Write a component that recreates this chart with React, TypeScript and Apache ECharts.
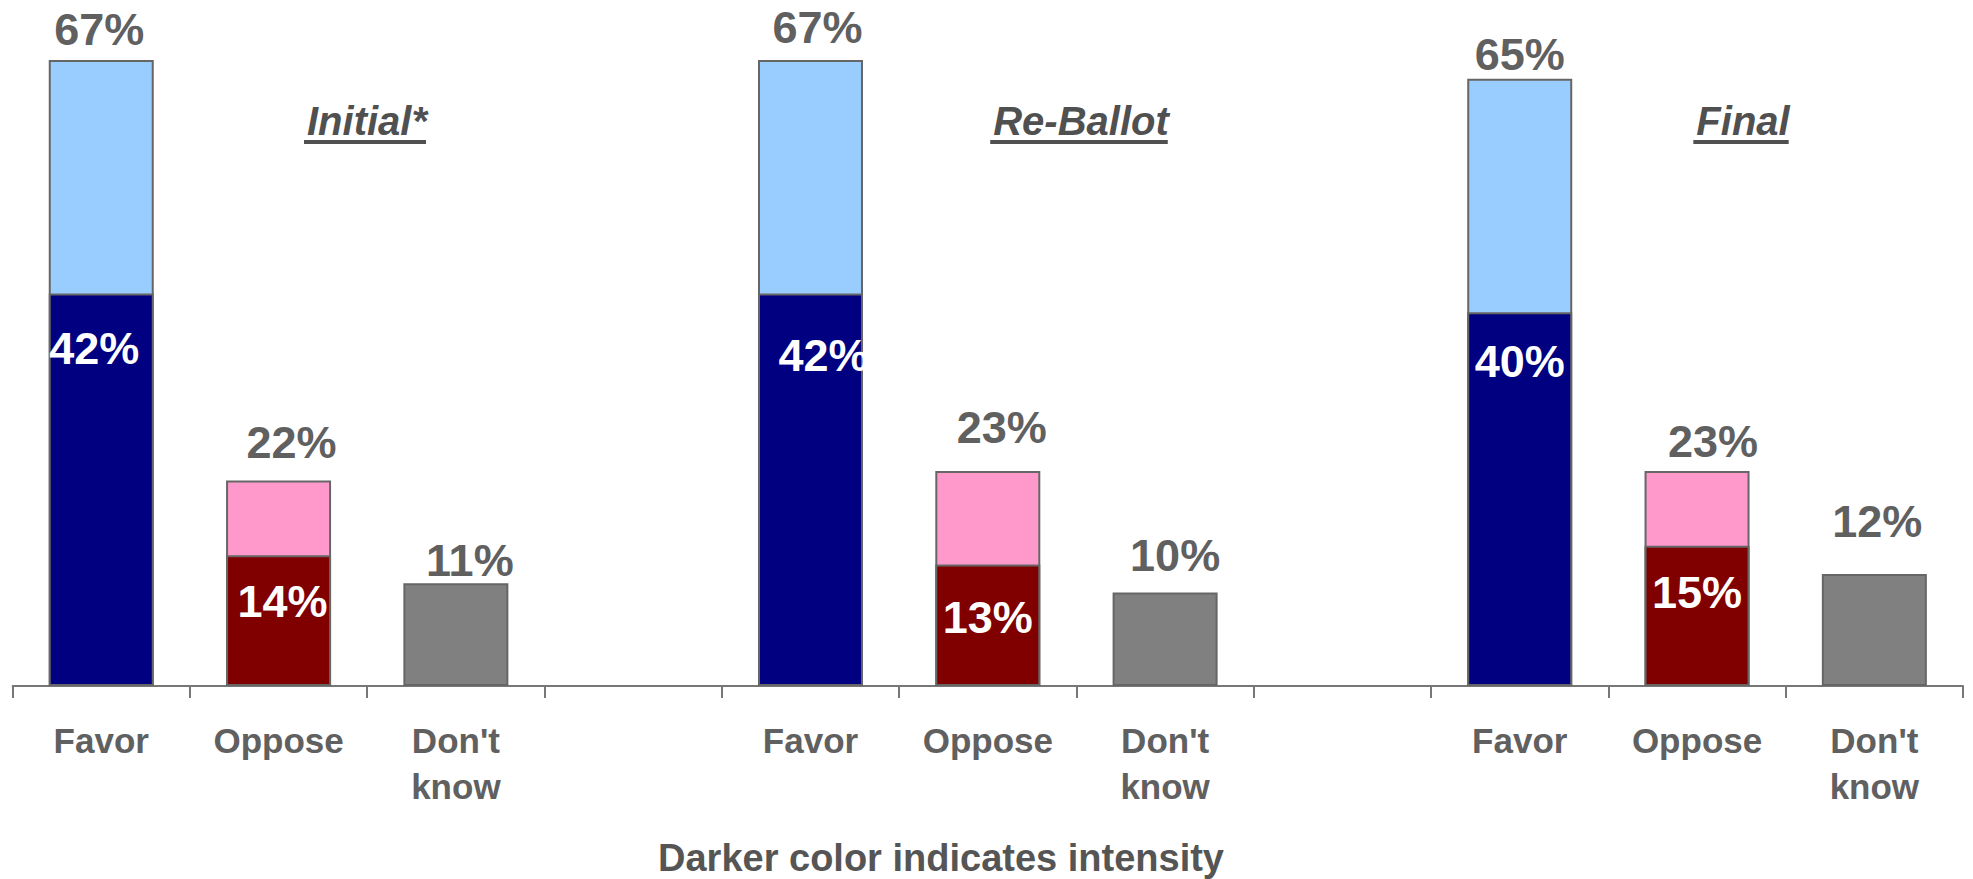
import React, { useEffect, useRef } from "react";
import * as echarts from "echarts";

// ---- data ----
const groups = ["Initial*", "Re-Ballot", "Final"];
const responses = ["Favor", "Oppose", "Don't\nknow"];
const favorTotal = [67, 67, 65];
const favorStrong = [42, 42, 40];
const opposeTotal = [22, 23, 23];
const opposeStrong = [14, 13, 15];
const dontKnow = [11, 10, 12];
const footnote = "Darker color indicates intensity";

// ---- layout / style (not data) ----
const FONT = "'Liberation Sans', Arial, Helvetica, sans-serif";
const W = 1973;
const H = 879;
const LABEL_GRAY = "#606060";
const TITLE_GRAY = "#505050";
const BORDER = "#666666";
const COLORS = {
  favorLight: "#99CCFF",
  favorDark: "#000080",
  opposeLight: "#FF99CC",
  opposeDark: "#800000",
  dontKnow: "#808080",
};
// per group: [favor, oppose, dontKnow] label nudges [dx, dy]
const topOffsets = [
  [[-2, -8], [13, -15], [14, 0]],
  [[7, -10], [14, -21], [10, -15]],
  [[0, -2], [16, -7], [3, -30]],
];
const innerOffsets = [
  [[-7, 32], [4, 24]],
  [[13, 39], [0, 30]],
  [[0, 27], [0, 24]],
];
const titlePos = [
  { x: 367, y: 121 },
  { x: 1081, y: 121 },
  { x: 1743, y: 121 },
];

function measure(text: string, font: string): number {
  const c = document.createElement("canvas");
  const ctx = c.getContext("2d");
  if (!ctx) return text.length * 20;
  ctx.font = font;
  return ctx.measureText(text).width;
}

export default function App() {
  const ref = useRef<HTMLDivElement | null>(null);

  useEffect(() => {
    if (!ref.current) return;
    const chart = echarts.init(ref.current, undefined, { renderer: "svg" });

    const categories: string[] = [];
    const totalData: any[] = [];
    const strongData: any[] = [];

    const topLabel = (gi: number, ri: number) => ({
      show: true,
      position: "top",
      distance: 0,
      offset: topOffsets[gi][ri],
      formatter: "{c}%",
      color: LABEL_GRAY,
      fontSize: 45,
      fontWeight: "bold",
      fontFamily: FONT,
    });
    const innerLabel = (gi: number, ri: number) => ({
      show: true,
      position: "insideTop",
      distance: 0,
      offset: innerOffsets[gi][ri],
      formatter: "{c}%",
      color: "#FFFFFF",
      fontSize: 45,
      fontWeight: "bold",
      fontFamily: FONT,
    });

    groups.forEach((g, gi) => {
      categories.push(...responses);
      totalData.push(
        {
          value: favorTotal[gi],
          itemStyle: { color: COLORS.favorLight },
          label: topLabel(gi, 0),
        },
        {
          value: opposeTotal[gi],
          itemStyle: { color: COLORS.opposeLight },
          label: topLabel(gi, 1),
        },
        {
          value: dontKnow[gi],
          itemStyle: { color: COLORS.dontKnow },
          label: topLabel(gi, 2),
        }
      );
      strongData.push(
        {
          value: favorStrong[gi],
          itemStyle: { color: COLORS.favorDark },
          label: innerLabel(gi, 0),
        },
        {
          value: opposeStrong[gi],
          itemStyle: { color: COLORS.opposeDark },
          label: innerLabel(gi, 1),
        },
        "-"
      );
      if (gi < groups.length - 1) {
        categories.push("");
        totalData.push("-");
        strongData.push("-");
      }
    });

    const titleFont = `italic bold 40px ${FONT}`;
    const graphics: any[] = [];
    groups.forEach((g, gi) => {
      const w = measure(g, titleFont);
      const p = titlePos[gi];
      graphics.push({
        type: "text",
        x: p.x,
        y: p.y,
        style: {
          text: g,
          fill: TITLE_GRAY,
          font: titleFont,
          align: "center",
          verticalAlign: "middle",
        },
      });
      graphics.push({
        type: "rect",
        shape: { x: p.x - w / 2 - 3, y: 140, width: w + 2, height: 4 },
        style: { fill: TITLE_GRAY },
      });
    });
    graphics.push({
      type: "text",
      x: 941,
      y: 858,
      style: {
        text: footnote,
        fill: "#555555",
        font: `bold 38px ${FONT}`,
        align: "center",
        verticalAlign: "middle",
      },
    });

    chart.setOption({
      animation: false,
      backgroundColor: "#FFFFFF",
      grid: {
        left: 12.6,
        right: 10,
        top: 32,
        bottom: 193,
        containLabel: false,
        outerBoundsMode: "none",
      },
      xAxis: {
        type: "category",
        data: categories,
        axisLine: { show: true, lineStyle: { color: "#777777", width: 2 } },
        axisTick: {
          show: true,
          interval: 0,
          length: 12,
          lineStyle: { color: "#777777", width: 2 },
        },
        axisLabel: {
          interval: 0,
          margin: 31,
          fontSize: 35,
          lineHeight: 46,
          fontWeight: "bold",
          color: LABEL_GRAY,
          fontFamily: FONT,
        },
        splitLine: { show: false },
      },
      yAxis: {
        type: "value",
        min: 0,
        max: 70,
        show: false,
        splitLine: { show: false },
      },
      series: [
        {
          name: "Total",
          type: "bar",
          data: totalData,
          barWidth: 105,
          barGap: "-100%",
          itemStyle: { borderColor: BORDER, borderWidth: 2 },
          z: 2,
        },
        {
          name: "Strong",
          type: "bar",
          data: strongData,
          barWidth: 105,
          barGap: "-100%",
          itemStyle: { borderColor: BORDER, borderWidth: 2 },
          z: 3,
        },
      ],
      graphic: graphics,
    });

    return () => {
      chart.dispose();
    };
  }, []);

  return (
    <div
      ref={ref}
      style={{
        position: "fixed",
        left: 0,
        top: 0,
        width: W,
        height: H,
        background: "#FFFFFF",
      }}
    />
  );
}
